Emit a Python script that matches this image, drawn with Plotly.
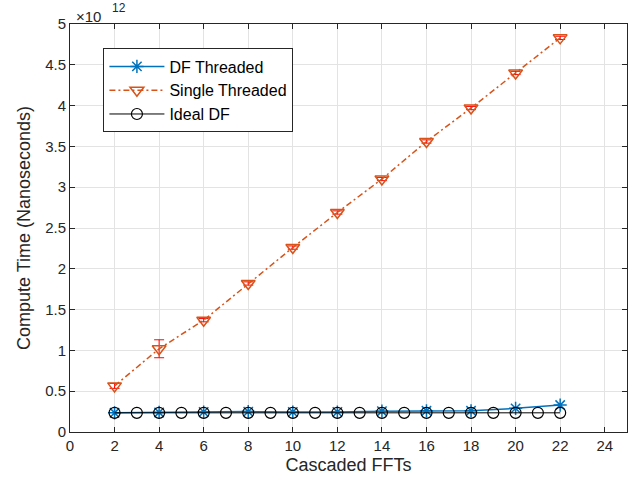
import plotly.graph_objects as go

x_df = [2, 4, 6, 8, 10, 12, 14, 16, 18, 20, 22]
df_threaded = [0.235e12, 0.24e12, 0.245e12, 0.25e12, 0.245e12, 0.245e12, 0.255e12, 0.26e12, 0.26e12, 0.29e12, 0.33e12]

x_single = [2, 4, 6, 8, 10, 12, 14, 16, 18, 20, 22]
single_threaded = [0.565e12, 1.02e12, 1.37e12, 1.82e12, 2.26e12, 2.69e12, 3.10e12, 3.56e12, 3.97e12, 4.40e12, 4.83e12]
single_err = [0.03e12, 0.11e12, 0.02e12, 0.02e12, 0.02e12, 0.02e12, 0.02e12, 0.02e12, 0.02e12, 0.02e12, 0.02e12]

x_ideal = list(range(2, 23))
ideal_df = [0.235e12] * len(x_ideal)

y_tickvals = [0, 0.5e12, 1e12, 1.5e12, 2e12, 2.5e12, 3e12, 3.5e12, 4e12, 4.5e12, 5e12]
y_ticktext = ["0", "0.5", "1", "1.5", "2", "2.5", "3", "3.5", "4", "4.5", "5"]
x_tickvals = list(range(0, 25, 2))

FONT = "Liberation Sans, Arial, sans-serif"
AX = "#262626"

fig = go.Figure()
fig.add_trace(go.Scatter(
    x=x_df, y=df_threaded, name="DF Threaded", mode="lines+markers",
    line=dict(color="#0072BD", width=1.5),
    marker=dict(symbol="asterisk-open", size=11, line=dict(color="#0072BD", width=1.5)),
))
fig.add_trace(go.Scatter(
    x=x_single, y=single_threaded, name="Single Threaded", mode="lines+markers",
    line=dict(color="#D95319", width=1.5, dash="6px,3px,2px,3px"),
    marker=dict(symbol="triangle-down-open", size=12, color="#D95319",
                line=dict(color="#D95319", width=1.5)),
    error_y=dict(type="data", array=single_err, visible=True, color="#FF0000",
                 thickness=1, width=5),
))
fig.add_trace(go.Scatter(
    x=x_ideal, y=ideal_df, name="Ideal DF", mode="lines+markers",
    line=dict(color="#000000", width=1),
    marker=dict(symbol="circle-open", size=11, color="#000000",
                line=dict(color="#000000", width=1.2)),
))

axis_common = dict(
    showline=True, linecolor=AX, linewidth=1, mirror="ticks",
    ticks="inside", ticklen=5, tickcolor=AX, automargin=False,
    showgrid=True, gridcolor="#E3E3E3", gridwidth=1, zeroline=False,
    tickfont=dict(family=FONT, size=15, color=AX),
)

fig.update_layout(
    width=634, height=481,
    margin=dict(l=70, r=7, t=24, b=49),
    paper_bgcolor="white", plot_bgcolor="white",
    font=dict(family=FONT, color=AX),
    xaxis=dict(range=[0, 25], tickvals=x_tickvals,
               title=dict(text="Cascaded FFTs", font=dict(family=FONT, size=18, color=AX), standoff=5),
               **axis_common),
    yaxis=dict(range=[0, 5e12], tickvals=y_tickvals, ticktext=y_ticktext,
               title=dict(text="Compute Time (Nanoseconds)", font=dict(family=FONT, size=18, color=AX), standoff=9),
               **axis_common),
    legend=dict(x=0.06, y=0.94, xanchor="left", yanchor="top",
                bgcolor="white", bordercolor=AX, borderwidth=1,
                font=dict(family=FONT, size=16, color="#000000"),
                tracegroupgap=0, itemwidth=55),
    showlegend=True,
    annotations=[
        dict(text="×10", xref="paper", yref="paper",
             x=0, y=1, xanchor="left", yanchor="bottom", showarrow=False,
             font=dict(family=FONT, size=15, color=AX), yshift=-3, xshift=4),
        dict(text="12", xref="paper", yref="paper",
             x=0, y=1, xanchor="left", yanchor="bottom", showarrow=False,
             font=dict(family=FONT, size=12, color=AX), yshift=7, xshift=40),
    ],
)

fig.write_html("out.html", config={"displayModeBar": False},
               post_script="document.body.style.margin='0px';document.body.style.overflow='hidden';")
